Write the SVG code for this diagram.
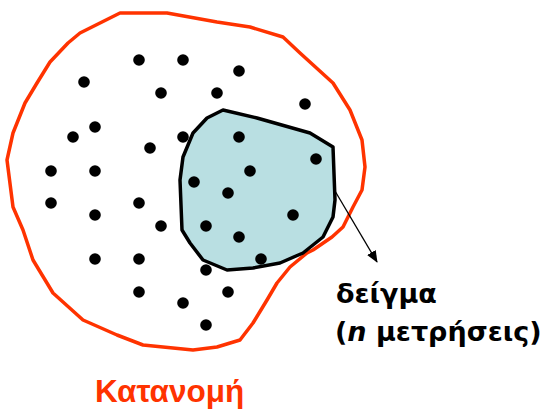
<svg xmlns="http://www.w3.org/2000/svg" width="546" height="409" viewBox="0 0 546 409">
<style>
.dist{fill:none;stroke:#ff3300;stroke-width:3.5;stroke-linejoin:round}
.sample{fill:#b9dfe2;stroke:#000;stroke-width:3.5;stroke-linejoin:round}
.dot{fill:#000}
.lbl{font-family:"DejaVu Sans",Verdana,sans-serif;font-weight:bold;font-size:27px;fill:#000}
.title{font-family:"Liberation Sans",Arial,sans-serif;font-weight:bold;font-size:31.5px;fill:#ff3300}
</style>
<defs>
<marker id="ah" markerWidth="12" markerHeight="10" refX="11" refY="5" orient="auto" markerUnits="userSpaceOnUse">
<path d="M0,0 L12,5 L0,10 Z" fill="#000"/>
</marker>
</defs>
<g id="distribution">
<path class="dist" d="M120,13 L167,13 L217,22 L250,27 L283,37 L300,53 L333,83 L350,110 L362,140 L365,167 L362,190 L353,207 L343,227 L332,237 L313,250 L307,253 L290,267 L277,283 L267,300 L253,323 L240,340 L217,347 L193,350 L143,345 L117,335 L83,320 L53,293 L33,260 L23,230 L13,207 L7,160 L13,133 L25,103 L37,83 L50,62 L68,43 L80,33 L110,18 Z"/>
</g>
<g id="sample">
<path class="sample" d="M223,110 L257,118 L310,133 L333,147 L335,200 L333,217 L323,237 L303,253 L280,263 L253,268 L227,270 L203,260 L190,243 L182,230 L180,180 L183,157 L193,133 L207,118 Z"/>
</g>
<g id="dots" class="dot">
<circle cx="139" cy="60" r="5.8"/><circle cx="183" cy="60" r="5.8"/><circle cx="239" cy="71" r="5.8"/>
<circle cx="84" cy="82" r="5.8"/><circle cx="161" cy="93" r="5.8"/><circle cx="217" cy="93" r="5.8"/>
<circle cx="305" cy="104" r="5.8"/><circle cx="95" cy="127" r="5.8"/><circle cx="73" cy="137" r="5.8"/>
<circle cx="183" cy="137" r="5.8"/><circle cx="239" cy="137" r="5.8"/><circle cx="150" cy="148" r="5.8"/>
<circle cx="316" cy="159" r="5.8"/><circle cx="51" cy="171" r="5.8"/><circle cx="95" cy="171" r="5.8"/>
<circle cx="250" cy="171" r="5.8"/><circle cx="194" cy="182" r="5.8"/><circle cx="228" cy="193" r="5.8"/>
<circle cx="51" cy="203" r="5.8"/><circle cx="139" cy="203" r="5.8"/><circle cx="95" cy="215" r="5.8"/>
<circle cx="293" cy="215" r="5.8"/><circle cx="161" cy="226" r="5.8"/><circle cx="206" cy="226" r="5.8"/>
<circle cx="239" cy="237" r="5.8"/><circle cx="95" cy="259" r="5.8"/><circle cx="139" cy="259" r="5.8"/>
<circle cx="261" cy="259" r="5.8"/><circle cx="206" cy="270" r="5.8"/><circle cx="139" cy="292" r="5.8"/>
<circle cx="228" cy="292" r="5.8"/><circle cx="183" cy="303" r="5.8"/><circle cx="206" cy="325" r="5.8"/>
</g>
<g id="connectors">
<line x1="335" y1="191" x2="377" y2="262" stroke="#000" stroke-width="1.3" marker-end="url(#ah)"/>
</g>
<g id="labels">
<text class="lbl" x="336" y="303">δείγμα</text>
<text class="lbl" x="335" y="341">(<tspan font-style="italic">n</tspan> μετρήσεις)</text>
<text class="title" x="95" y="402">Κατανομή</text>
</g>
</svg>
